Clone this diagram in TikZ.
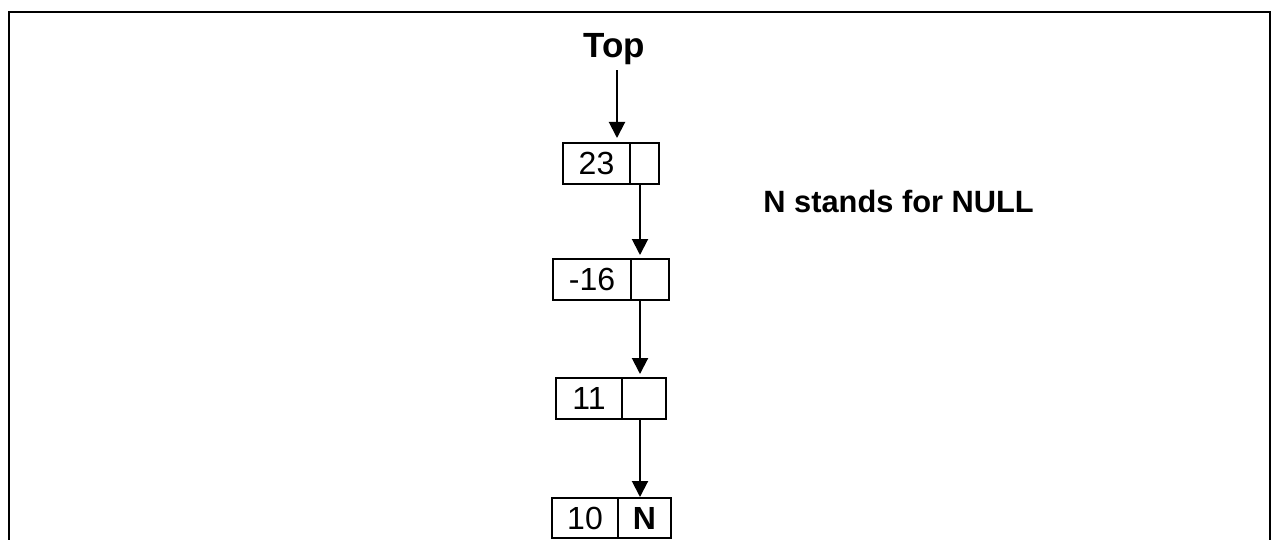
\documentclass[tikz,border=0pt]{standalone}
\usepackage{fontspec}
\setmainfont{Liberation Sans}
\usetikzlibrary{arrows.meta}
\begin{document}
\begin{tikzpicture}[x=0.5pt,y=-0.5pt,
  cell/.style={draw,line width=1pt,inner sep=0pt,minimum height=20.5pt,font=\fontsize{16}{19}\selectfont},
  link/.style={line width=1pt,-{Triangle[length=8pt,width=8pt]}},
  label/.style={font=\fontsize{17.5}{21}\selectfont\bfseries}]
\useasboundingbox (0,0) rectangle (1274,540);
% outer frame, open at the bottom
\draw[line width=1.4pt] (9,600) -- (9,12) -- (1270,12) -- (1270,600);
% stack cells: value and next pointer
\node[cell,minimum width=33.5pt] (v1) at (596.5,163.5) {23};
\node[cell,minimum width=14.5pt] (p1) at (644.5,163.5) {};
\node[cell,minimum width=39pt] (v2) at (592,279.5) {-16};
\node[cell,minimum width=19pt] (p2) at (650,279.5) {};
\node[cell,minimum width=33pt] (v3) at (589,398.5) {11};
\node[cell,minimum width=22pt] (p3) at (644,398.5) {};
\node[cell,minimum width=33pt,minimum height=20pt] (v4) at (585,518) {10};
\node[cell,minimum width=26.5pt,minimum height=20pt,font=\fontsize{16}{19}\selectfont\bfseries] (p4) at (644.5,518) {N};
% labels
\node[label,anchor=base] (top) at (614,58) {Top};
\node[font=\fontsize{15.4}{18}\selectfont\bfseries,inner sep=0pt,anchor=base west] (note) at (763,213) {N stands for NULL};
% links
\coordinate (ta) at (617,0);
\coordinate (la) at (640,0);
\draw[link] (top.south -| ta) ++(0,-2) -- ([yshift=2pt]v1.north -| ta);
\draw[link] (p1.south -| la) -- ([yshift=1.5pt]p2.north -| la);
\draw[link] (p2.south -| la) -- ([yshift=1.5pt]p3.north -| la);
\draw[link] (p3.south -| la) -- ([yshift=0pt]p4.north -| la);
\end{tikzpicture}
\end{document}
